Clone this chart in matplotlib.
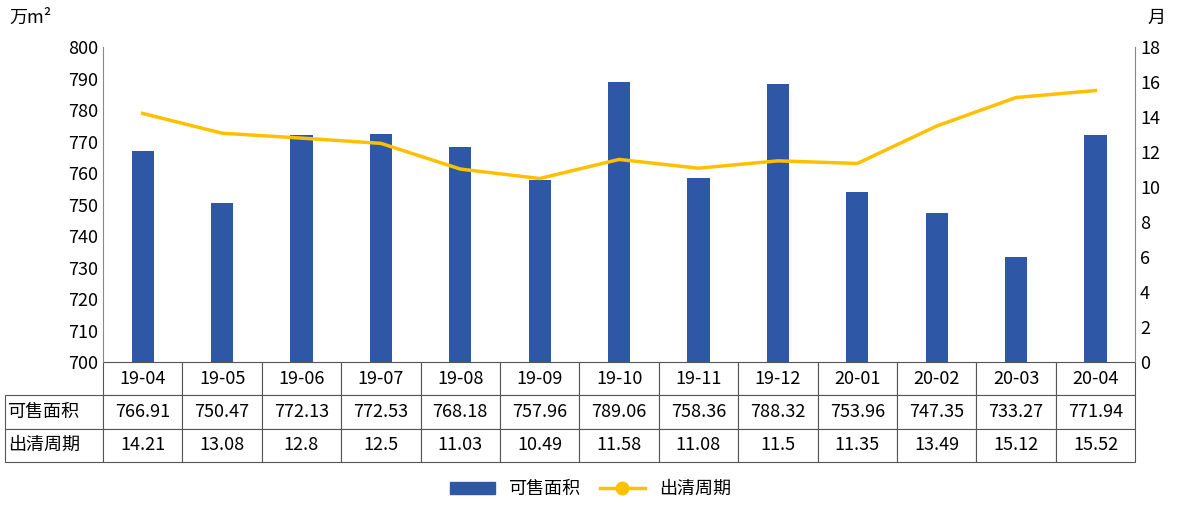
import matplotlib.pyplot as plt
from matplotlib.lines import Line2D
from matplotlib.patches import Patch

plt.rcParams['font.family'] = ['Noto Sans CJK SC', 'DejaVu Sans']

months = ["19-04", "19-05", "19-06", "19-07", "19-08", "19-09", "19-10",
          "19-11", "19-12", "20-01", "20-02", "20-03", "20-04"]
area = [766.91, 750.47, 772.13, 772.53, 768.18, 757.96, 789.06,
        758.36, 788.32, 753.96, 747.35, 733.27, 771.94]
period = [14.21, 13.08, 12.8, 12.5, 11.03, 10.49, 11.58,
          11.08, 11.5, 11.35, 13.49, 15.12, 15.52]
area_labels = ["766.91", "750.47", "772.13", "772.53", "768.18", "757.96", "789.06",
               "758.36", "788.32", "753.96", "747.35", "733.27", "771.94"]
period_labels = ["14.21", "13.08", "12.8", "12.5", "11.03", "10.49", "11.58",
                 "11.08", "11.5", "11.35", "13.49", "15.12", "15.52"]

bar_color = "#2E58A6"
line_color = "#FFC000"

fig = plt.figure(figsize=(11.81, 5.07), dpi=100)
ax = fig.add_axes([0.0872, 0.286, 0.874, 0.621])
x = list(range(len(months)))
ax.bar(x, area, width=0.28, color=bar_color, bottom=0)
ax.set_ylim(700, 800)
ax.set_xlim(-0.5, len(months) - 0.5)
ax.set_yticks(range(700, 801, 10))
ax.set_xticks([])
ax.tick_params(axis='y', length=0, labelsize=13)
for s in ['top', 'right']:
    ax.spines[s].set_visible(False)
ax.spines['left'].set_color('#888888')
ax.spines['bottom'].set_visible(False)

ax2 = ax.twinx()
ax2.plot(x, period, color=line_color, lw=2.5)
ax2.set_ylim(0, 18)
ax2.set_yticks(range(0, 19, 2))
ax2.tick_params(axis='y', length=0, labelsize=13)
for s in ['top', 'left', 'bottom']:
    ax2.spines[s].set_visible(False)
ax2.spines['right'].set_color('#888888')

fig.text(0.008, 0.965, "万m²", fontsize=13, va='center')
fig.text(0.972, 0.965, "月", fontsize=13, va='center')

cells = [[""] + months, ["可售面积"] + area_labels, ["出清周期"] + period_labels]
lab_w = 0.095
col_w = 1.0 / len(months)
tbl = ax.table(cellText=cells, cellLoc='center',
               colWidths=[lab_w] + [col_w] * len(months),
               bbox=[-lab_w, -0.317, 1 + lab_w, 0.317])
tbl.auto_set_font_size(False)
tbl.set_fontsize(13)
for (r, c), cell in tbl.get_celld().items():
    cell.set_edgecolor('#555555')
    cell.set_linewidth(0.8)
    if r == 0 and c == 0:
        cell.visible_edges = ''
    if c == 0:
        cell.get_text().set_ha('left')
        cell.PAD = 0.03

handles = [Patch(color=bar_color),
           Line2D([0], [0], color=line_color, lw=2.5, marker='o', markersize=9)]
fig.legend(handles, ["可售面积", "出清周期"], loc='center', bbox_to_anchor=(0.5, 0.035),
           ncol=2, frameon=False, fontsize=13, handlelength=2.5, columnspacing=1.0)

fig.savefig("out.png", dpi=100)
